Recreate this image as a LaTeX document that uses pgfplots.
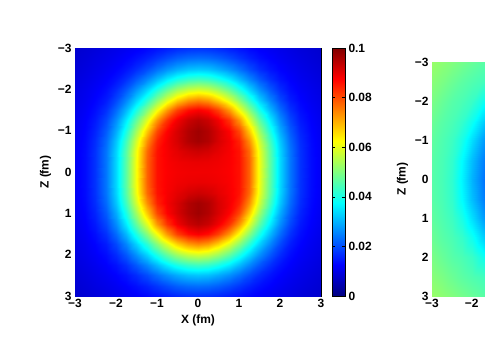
\documentclass[border=0pt]{standalone}
\usepackage{fontspec}
\setmainfont{Liberation Sans}
\usepackage{pgfplots}
\pgfplotsset{compat=1.18}
\newcommand{\lf}{\bfseries\fontsize{12}{14}\selectfont}
\begin{document}
\begin{tikzpicture}
\path[use as bounding box] (0bp,0bp) rectangle (485bp,360bp);
\begin{scope}
\clip (0bp,0bp) rectangle (485bp,360bp);
\begin{axis}[
  at={(75bp,64bp)}, anchor=south west,
  width=246bp, height=248bp, scale only axis,
  xmin=-3, xmax=3, ymin=-3, ymax=3,
  y dir=reverse,
  colormap/jet,
  point meta min=0, point meta max=0.1,
  xtick={-3,-2,-1,0,1,2,3}, ytick={-3,-2,-1,0,1,2,3},
  xticklabels={−3,−2,−1,0,1,2,3},
  yticklabels={−3,−2,−1,0,1,2,3},
  tick align=inside, major tick length=4bp,
  ticklabel style={font=\lf},
  label style={font=\lf},
  xlabel={X (fm)}, ylabel={Z (fm)},
  axis line style={line width=0.8bp},
  tick style={line width=0.6bp, black},
  colorbar,
  colorbar style={
    at={(parent axis.north east)}, anchor=north west, xshift=2.5bp,
    width=13bp, height=248bp, scale only axis,
    y dir=normal,
    ytick={0,0.02,0.04,0.06,0.08,0.1},
    yticklabels={0,0.02,0.04,0.06,0.08,0.1},
    yticklabel style={font=\lf},
    tick align=inside, major tick length=3bp,
    axis line style={line width=0.8bp},
    tick style={line width=0.6bp, black},
  },
]
\addplot[surf, shader=interp, mesh/cols=25, point meta=explicit] coordinates {
(-3,-3)[0.0077] (-2.75,-3)[0.0083] (-2.5,-3)[0.0089] (-2.25,-3)[0.0097] (-2,-3)[0.0104] (-1.75,-3)[0.0112] (-1.5,-3)[0.0120] (-1.25,-3)[0.0130] (-1,-3)[0.0141] (-0.75,-3)[0.0152] (-0.5,-3)[0.0163] (-0.25,-3)[0.0170] (0,-3)[0.0172] (0.25,-3)[0.0170] (0.5,-3)[0.0163] (0.75,-3)[0.0152] (1,-3)[0.0141] (1.25,-3)[0.0130] (1.5,-3)[0.0120] (1.75,-3)[0.0112] (2,-3)[0.0104] (2.25,-3)[0.0097] (2.5,-3)[0.0089] (2.75,-3)[0.0083] (3,-3)[0.0077]
(-3,-2.75)[0.0081] (-2.75,-2.75)[0.0088] (-2.5,-2.75)[0.0096] (-2.25,-2.75)[0.0104] (-2,-2.75)[0.0113] (-1.75,-2.75)[0.0124] (-1.5,-2.75)[0.0138] (-1.25,-2.75)[0.0156] (-1,-2.75)[0.0177] (-0.75,-2.75)[0.0198] (-0.5,-2.75)[0.0217] (-0.25,-2.75)[0.0229] (0,-2.75)[0.0233] (0.25,-2.75)[0.0229] (0.5,-2.75)[0.0217] (0.75,-2.75)[0.0198] (1,-2.75)[0.0177] (1.25,-2.75)[0.0156] (1.5,-2.75)[0.0138] (1.75,-2.75)[0.0124] (2,-2.75)[0.0113] (2.25,-2.75)[0.0104] (2.5,-2.75)[0.0096] (2.75,-2.75)[0.0088] (3,-2.75)[0.0081]
(-3,-2.5)[0.0086] (-2.75,-2.5)[0.0094] (-2.5,-2.5)[0.0103] (-2.25,-2.5)[0.0113] (-2,-2.5)[0.0125] (-1.75,-2.5)[0.0142] (-1.5,-2.5)[0.0167] (-1.25,-2.5)[0.0199] (-1,-2.5)[0.0234] (-0.75,-2.5)[0.0266] (-0.5,-2.5)[0.0293] (-0.25,-2.5)[0.0313] (0,-2.5)[0.0319] (0.25,-2.5)[0.0313] (0.5,-2.5)[0.0293] (0.75,-2.5)[0.0266] (1,-2.5)[0.0234] (1.25,-2.5)[0.0199] (1.5,-2.5)[0.0167] (1.75,-2.5)[0.0142] (2,-2.5)[0.0125] (2.25,-2.5)[0.0113] (2.5,-2.5)[0.0103] (2.75,-2.5)[0.0094] (3,-2.5)[0.0086]
(-3,-2.25)[0.0091] (-2.75,-2.25)[0.0100] (-2.5,-2.25)[0.0110] (-2.25,-2.25)[0.0123] (-2,-2.25)[0.0141] (-1.75,-2.25)[0.0170] (-1.5,-2.25)[0.0211] (-1.25,-2.25)[0.0258] (-1,-2.25)[0.0308] (-0.75,-2.25)[0.0357] (-0.5,-2.25)[0.0397] (-0.25,-2.25)[0.0425] (0,-2.25)[0.0435] (0.25,-2.25)[0.0425] (0.5,-2.25)[0.0397] (0.75,-2.25)[0.0357] (1,-2.25)[0.0308] (1.25,-2.25)[0.0258] (1.5,-2.25)[0.0211] (1.75,-2.25)[0.0170] (2,-2.25)[0.0141] (2.25,-2.25)[0.0123] (2.5,-2.25)[0.0110] (2.75,-2.25)[0.0100] (3,-2.25)[0.0091]
(-3,-2)[0.0096] (-2.75,-2)[0.0106] (-2.5,-2)[0.0118] (-2.25,-2)[0.0135] (-2,-2)[0.0165] (-1.75,-2)[0.0209] (-1.5,-2)[0.0266] (-1.25,-2)[0.0331] (-1,-2)[0.0400] (-0.75,-2)[0.0467] (-0.5,-2)[0.0524] (-0.25,-2)[0.0562] (0,-2)[0.0576] (0.25,-2)[0.0562] (0.5,-2)[0.0524] (0.75,-2)[0.0467] (1,-2)[0.0400] (1.25,-2)[0.0331] (1.5,-2)[0.0266] (1.75,-2)[0.0209] (2,-2)[0.0165] (2.25,-2)[0.0135] (2.5,-2)[0.0118] (2.75,-2)[0.0106] (3,-2)[0.0096]
(-3,-1.75)[0.0100] (-2.75,-1.75)[0.0111] (-2.5,-1.75)[0.0127] (-2.25,-1.75)[0.0151] (-2,-1.75)[0.0195] (-1.75,-1.75)[0.0256] (-1.5,-1.75)[0.0331] (-1.25,-1.75)[0.0417] (-1,-1.75)[0.0508] (-0.75,-1.75)[0.0593] (-0.5,-1.75)[0.0668] (-0.25,-1.75)[0.0722] (0,-1.75)[0.0742] (0.25,-1.75)[0.0722] (0.5,-1.75)[0.0668] (0.75,-1.75)[0.0593] (1,-1.75)[0.0508] (1.25,-1.75)[0.0417] (1.5,-1.75)[0.0331] (1.75,-1.75)[0.0256] (2,-1.75)[0.0195] (2.25,-1.75)[0.0151] (2.5,-1.75)[0.0127] (2.75,-1.75)[0.0111] (3,-1.75)[0.0100]
(-3,-1.5)[0.0104] (-2.75,-1.5)[0.0117] (-2.5,-1.5)[0.0137] (-2.25,-1.5)[0.0172] (-2,-1.5)[0.0230] (-1.75,-1.5)[0.0306] (-1.5,-1.5)[0.0401] (-1.25,-1.5)[0.0508] (-1,-1.5)[0.0618] (-0.75,-1.5)[0.0727] (-0.5,-1.5)[0.0812] (-0.25,-1.5)[0.0862] (0,-1.5)[0.0880] (0.25,-1.5)[0.0862] (0.5,-1.5)[0.0812] (0.75,-1.5)[0.0727] (1,-1.5)[0.0618] (1.25,-1.5)[0.0508] (1.5,-1.5)[0.0401] (1.75,-1.5)[0.0306] (2,-1.5)[0.0230] (2.25,-1.5)[0.0172] (2.5,-1.5)[0.0137] (2.75,-1.5)[0.0117] (3,-1.5)[0.0104]
(-3,-1.25)[0.0108] (-2.75,-1.25)[0.0123] (-2.5,-1.25)[0.0148] (-2.25,-1.25)[0.0194] (-2,-1.25)[0.0264] (-1.75,-1.25)[0.0357] (-1.5,-1.25)[0.0470] (-1.25,-1.25)[0.0596] (-1,-1.25)[0.0729] (-0.75,-1.25)[0.0827] (-0.5,-1.25)[0.0888] (-0.25,-1.25)[0.0927] (0,-1.25)[0.0944] (0.25,-1.25)[0.0927] (0.5,-1.25)[0.0888] (0.75,-1.25)[0.0827] (1,-1.25)[0.0729] (1.25,-1.25)[0.0596] (1.5,-1.25)[0.0470] (1.75,-1.25)[0.0357] (2,-1.25)[0.0264] (2.25,-1.25)[0.0194] (2.5,-1.25)[0.0148] (2.75,-1.25)[0.0123] (3,-1.25)[0.0108]
(-3,-1)[0.0111] (-2.75,-1)[0.0128] (-2.5,-1)[0.0159] (-2.25,-1)[0.0214] (-2,-1)[0.0294] (-1.75,-1)[0.0402] (-1.5,-1)[0.0532] (-1.25,-1)[0.0678] (-1,-1)[0.0806] (-0.75,-1)[0.0875] (-0.5,-1)[0.0914] (-0.25,-1)[0.0951] (0,-1)[0.0969] (0.25,-1)[0.0951] (0.5,-1)[0.0914] (0.75,-1)[0.0875] (1,-1)[0.0806] (1.25,-1)[0.0678] (1.5,-1)[0.0532] (1.75,-1)[0.0402] (2,-1)[0.0294] (2.25,-1)[0.0214] (2.5,-1)[0.0159] (2.75,-1)[0.0128] (3,-1)[0.0111]
(-3,-0.75)[0.0113] (-2.75,-0.75)[0.0132] (-2.5,-0.75)[0.0168] (-2.25,-0.75)[0.0230] (-2,-0.75)[0.0320] (-1.75,-0.75)[0.0439] (-1.5,-0.75)[0.0580] (-1.25,-0.75)[0.0736] (-1,-0.75)[0.0843] (-0.75,-0.75)[0.0886] (-0.5,-0.75)[0.0915] (-0.25,-0.75)[0.0951] (0,-0.75)[0.0966] (0.25,-0.75)[0.0951] (0.5,-0.75)[0.0915] (0.75,-0.75)[0.0886] (1,-0.75)[0.0843] (1.25,-0.75)[0.0736] (1.5,-0.75)[0.0580] (1.75,-0.75)[0.0439] (2,-0.75)[0.0320] (2.25,-0.75)[0.0230] (2.5,-0.75)[0.0168] (2.75,-0.75)[0.0132] (3,-0.75)[0.0113]
(-3,-0.5)[0.0115] (-2.75,-0.5)[0.0134] (-2.5,-0.5)[0.0173] (-2.25,-0.5)[0.0240] (-2,-0.5)[0.0334] (-1.75,-0.5)[0.0460] (-1.5,-0.5)[0.0608] (-1.25,-0.5)[0.0771] (-1,-0.5)[0.0858] (-0.75,-0.5)[0.0883] (-0.5,-0.5)[0.0901] (-0.25,-0.5)[0.0918] (0,-0.5)[0.0926] (0.25,-0.5)[0.0918] (0.5,-0.5)[0.0901] (0.75,-0.5)[0.0883] (1,-0.5)[0.0858] (1.25,-0.5)[0.0771] (1.5,-0.5)[0.0608] (1.75,-0.5)[0.0460] (2,-0.5)[0.0334] (2.25,-0.5)[0.0240] (2.5,-0.5)[0.0173] (2.75,-0.5)[0.0134] (3,-0.5)[0.0115]
(-3,-0.25)[0.0115] (-2.75,-0.25)[0.0135] (-2.5,-0.25)[0.0174] (-2.25,-0.25)[0.0242] (-2,-0.25)[0.0338] (-1.75,-0.25)[0.0465] (-1.5,-0.25)[0.0615] (-1.25,-0.25)[0.0780] (-1,-0.25)[0.0860] (-0.75,-0.25)[0.0880] (-0.5,-0.25)[0.0889] (-0.25,-0.25)[0.0894] (0,-0.25)[0.0896] (0.25,-0.25)[0.0894] (0.5,-0.25)[0.0889] (0.75,-0.25)[0.0880] (1,-0.25)[0.0860] (1.25,-0.25)[0.0780] (1.5,-0.25)[0.0615] (1.75,-0.25)[0.0465] (2,-0.25)[0.0338] (2.25,-0.25)[0.0242] (2.5,-0.25)[0.0174] (2.75,-0.25)[0.0135] (3,-0.25)[0.0115]
(-3,0)[0.0115] (-2.75,0)[0.0135] (-2.5,0)[0.0174] (-2.25,0)[0.0242] (-2,0)[0.0338] (-1.75,0)[0.0465] (-1.5,0)[0.0615] (-1.25,0)[0.0780] (-1,0)[0.0860] (-0.75,0)[0.0878] (-0.5,0)[0.0885] (-0.25,0)[0.0888] (0,0)[0.0888] (0.25,0)[0.0888] (0.5,0)[0.0885] (0.75,0)[0.0878] (1,0)[0.0860] (1.25,0)[0.0780] (1.5,0)[0.0615] (1.75,0)[0.0465] (2,0)[0.0338] (2.25,0)[0.0242] (2.5,0)[0.0174] (2.75,0)[0.0135] (3,0)[0.0115]
(-3,0.25)[0.0115] (-2.75,0.25)[0.0135] (-2.5,0.25)[0.0174] (-2.25,0.25)[0.0242] (-2,0.25)[0.0338] (-1.75,0.25)[0.0465] (-1.5,0.25)[0.0615] (-1.25,0.25)[0.0780] (-1,0.25)[0.0860] (-0.75,0.25)[0.0880] (-0.5,0.25)[0.0889] (-0.25,0.25)[0.0894] (0,0.25)[0.0896] (0.25,0.25)[0.0894] (0.5,0.25)[0.0889] (0.75,0.25)[0.0880] (1,0.25)[0.0860] (1.25,0.25)[0.0780] (1.5,0.25)[0.0615] (1.75,0.25)[0.0465] (2,0.25)[0.0338] (2.25,0.25)[0.0242] (2.5,0.25)[0.0174] (2.75,0.25)[0.0135] (3,0.25)[0.0115]
(-3,0.5)[0.0115] (-2.75,0.5)[0.0134] (-2.5,0.5)[0.0173] (-2.25,0.5)[0.0240] (-2,0.5)[0.0334] (-1.75,0.5)[0.0460] (-1.5,0.5)[0.0608] (-1.25,0.5)[0.0771] (-1,0.5)[0.0858] (-0.75,0.5)[0.0883] (-0.5,0.5)[0.0901] (-0.25,0.5)[0.0918] (0,0.5)[0.0926] (0.25,0.5)[0.0918] (0.5,0.5)[0.0901] (0.75,0.5)[0.0883] (1,0.5)[0.0858] (1.25,0.5)[0.0771] (1.5,0.5)[0.0608] (1.75,0.5)[0.0460] (2,0.5)[0.0334] (2.25,0.5)[0.0240] (2.5,0.5)[0.0173] (2.75,0.5)[0.0134] (3,0.5)[0.0115]
(-3,0.75)[0.0113] (-2.75,0.75)[0.0132] (-2.5,0.75)[0.0168] (-2.25,0.75)[0.0230] (-2,0.75)[0.0320] (-1.75,0.75)[0.0439] (-1.5,0.75)[0.0580] (-1.25,0.75)[0.0736] (-1,0.75)[0.0843] (-0.75,0.75)[0.0886] (-0.5,0.75)[0.0915] (-0.25,0.75)[0.0951] (0,0.75)[0.0966] (0.25,0.75)[0.0951] (0.5,0.75)[0.0915] (0.75,0.75)[0.0886] (1,0.75)[0.0843] (1.25,0.75)[0.0736] (1.5,0.75)[0.0580] (1.75,0.75)[0.0439] (2,0.75)[0.0320] (2.25,0.75)[0.0230] (2.5,0.75)[0.0168] (2.75,0.75)[0.0132] (3,0.75)[0.0113]
(-3,1)[0.0111] (-2.75,1)[0.0128] (-2.5,1)[0.0159] (-2.25,1)[0.0214] (-2,1)[0.0294] (-1.75,1)[0.0402] (-1.5,1)[0.0532] (-1.25,1)[0.0678] (-1,1)[0.0806] (-0.75,1)[0.0875] (-0.5,1)[0.0914] (-0.25,1)[0.0951] (0,1)[0.0969] (0.25,1)[0.0951] (0.5,1)[0.0914] (0.75,1)[0.0875] (1,1)[0.0806] (1.25,1)[0.0678] (1.5,1)[0.0532] (1.75,1)[0.0402] (2,1)[0.0294] (2.25,1)[0.0214] (2.5,1)[0.0159] (2.75,1)[0.0128] (3,1)[0.0111]
(-3,1.25)[0.0108] (-2.75,1.25)[0.0123] (-2.5,1.25)[0.0148] (-2.25,1.25)[0.0194] (-2,1.25)[0.0264] (-1.75,1.25)[0.0357] (-1.5,1.25)[0.0470] (-1.25,1.25)[0.0596] (-1,1.25)[0.0729] (-0.75,1.25)[0.0827] (-0.5,1.25)[0.0888] (-0.25,1.25)[0.0927] (0,1.25)[0.0944] (0.25,1.25)[0.0927] (0.5,1.25)[0.0888] (0.75,1.25)[0.0827] (1,1.25)[0.0729] (1.25,1.25)[0.0596] (1.5,1.25)[0.0470] (1.75,1.25)[0.0357] (2,1.25)[0.0264] (2.25,1.25)[0.0194] (2.5,1.25)[0.0148] (2.75,1.25)[0.0123] (3,1.25)[0.0108]
(-3,1.5)[0.0104] (-2.75,1.5)[0.0117] (-2.5,1.5)[0.0137] (-2.25,1.5)[0.0172] (-2,1.5)[0.0230] (-1.75,1.5)[0.0306] (-1.5,1.5)[0.0401] (-1.25,1.5)[0.0508] (-1,1.5)[0.0618] (-0.75,1.5)[0.0727] (-0.5,1.5)[0.0812] (-0.25,1.5)[0.0862] (0,1.5)[0.0880] (0.25,1.5)[0.0862] (0.5,1.5)[0.0812] (0.75,1.5)[0.0727] (1,1.5)[0.0618] (1.25,1.5)[0.0508] (1.5,1.5)[0.0401] (1.75,1.5)[0.0306] (2,1.5)[0.0230] (2.25,1.5)[0.0172] (2.5,1.5)[0.0137] (2.75,1.5)[0.0117] (3,1.5)[0.0104]
(-3,1.75)[0.0100] (-2.75,1.75)[0.0111] (-2.5,1.75)[0.0127] (-2.25,1.75)[0.0151] (-2,1.75)[0.0195] (-1.75,1.75)[0.0256] (-1.5,1.75)[0.0331] (-1.25,1.75)[0.0417] (-1,1.75)[0.0508] (-0.75,1.75)[0.0593] (-0.5,1.75)[0.0668] (-0.25,1.75)[0.0722] (0,1.75)[0.0742] (0.25,1.75)[0.0722] (0.5,1.75)[0.0668] (0.75,1.75)[0.0593] (1,1.75)[0.0508] (1.25,1.75)[0.0417] (1.5,1.75)[0.0331] (1.75,1.75)[0.0256] (2,1.75)[0.0195] (2.25,1.75)[0.0151] (2.5,1.75)[0.0127] (2.75,1.75)[0.0111] (3,1.75)[0.0100]
(-3,2)[0.0096] (-2.75,2)[0.0106] (-2.5,2)[0.0118] (-2.25,2)[0.0135] (-2,2)[0.0165] (-1.75,2)[0.0209] (-1.5,2)[0.0266] (-1.25,2)[0.0331] (-1,2)[0.0400] (-0.75,2)[0.0467] (-0.5,2)[0.0524] (-0.25,2)[0.0562] (0,2)[0.0576] (0.25,2)[0.0562] (0.5,2)[0.0524] (0.75,2)[0.0467] (1,2)[0.0400] (1.25,2)[0.0331] (1.5,2)[0.0266] (1.75,2)[0.0209] (2,2)[0.0165] (2.25,2)[0.0135] (2.5,2)[0.0118] (2.75,2)[0.0106] (3,2)[0.0096]
(-3,2.25)[0.0091] (-2.75,2.25)[0.0100] (-2.5,2.25)[0.0110] (-2.25,2.25)[0.0123] (-2,2.25)[0.0141] (-1.75,2.25)[0.0170] (-1.5,2.25)[0.0211] (-1.25,2.25)[0.0258] (-1,2.25)[0.0308] (-0.75,2.25)[0.0357] (-0.5,2.25)[0.0397] (-0.25,2.25)[0.0425] (0,2.25)[0.0435] (0.25,2.25)[0.0425] (0.5,2.25)[0.0397] (0.75,2.25)[0.0357] (1,2.25)[0.0308] (1.25,2.25)[0.0258] (1.5,2.25)[0.0211] (1.75,2.25)[0.0170] (2,2.25)[0.0141] (2.25,2.25)[0.0123] (2.5,2.25)[0.0110] (2.75,2.25)[0.0100] (3,2.25)[0.0091]
(-3,2.5)[0.0086] (-2.75,2.5)[0.0094] (-2.5,2.5)[0.0103] (-2.25,2.5)[0.0113] (-2,2.5)[0.0125] (-1.75,2.5)[0.0142] (-1.5,2.5)[0.0167] (-1.25,2.5)[0.0199] (-1,2.5)[0.0234] (-0.75,2.5)[0.0266] (-0.5,2.5)[0.0293] (-0.25,2.5)[0.0313] (0,2.5)[0.0319] (0.25,2.5)[0.0313] (0.5,2.5)[0.0293] (0.75,2.5)[0.0266] (1,2.5)[0.0234] (1.25,2.5)[0.0199] (1.5,2.5)[0.0167] (1.75,2.5)[0.0142] (2,2.5)[0.0125] (2.25,2.5)[0.0113] (2.5,2.5)[0.0103] (2.75,2.5)[0.0094] (3,2.5)[0.0086]
(-3,2.75)[0.0081] (-2.75,2.75)[0.0088] (-2.5,2.75)[0.0096] (-2.25,2.75)[0.0104] (-2,2.75)[0.0113] (-1.75,2.75)[0.0124] (-1.5,2.75)[0.0138] (-1.25,2.75)[0.0156] (-1,2.75)[0.0177] (-0.75,2.75)[0.0198] (-0.5,2.75)[0.0217] (-0.25,2.75)[0.0229] (0,2.75)[0.0233] (0.25,2.75)[0.0229] (0.5,2.75)[0.0217] (0.75,2.75)[0.0198] (1,2.75)[0.0177] (1.25,2.75)[0.0156] (1.5,2.75)[0.0138] (1.75,2.75)[0.0124] (2,2.75)[0.0113] (2.25,2.75)[0.0104] (2.5,2.75)[0.0096] (2.75,2.75)[0.0088] (3,2.75)[0.0081]
(-3,3)[0.0077] (-2.75,3)[0.0083] (-2.5,3)[0.0089] (-2.25,3)[0.0097] (-2,3)[0.0104] (-1.75,3)[0.0112] (-1.5,3)[0.0120] (-1.25,3)[0.0130] (-1,3)[0.0141] (-0.75,3)[0.0152] (-0.5,3)[0.0163] (-0.25,3)[0.0170] (0,3)[0.0172] (0.25,3)[0.0170] (0.5,3)[0.0163] (0.75,3)[0.0152] (1,3)[0.0141] (1.25,3)[0.0130] (1.5,3)[0.0120] (1.75,3)[0.0112] (2,3)[0.0104] (2.25,3)[0.0097] (2.5,3)[0.0089] (2.75,3)[0.0083] (3,3)[0.0077]
};
\end{axis}
\begin{axis}[
  at={(432bp,64bp)}, anchor=south west,
  width=238bp, height=234bp, scale only axis,
  xmin=-3, xmax=3, ymin=-3, ymax=3,
  y dir=reverse,
  colormap/jet,
  point meta min=0, point meta max=1,
  xtick={-3,-2,-1,0,1,2,3}, ytick={-3,-2,-1,0,1,2,3},
  xticklabels={−3,−2,−1,0,1,2,3},
  yticklabels={−3,−2,−1,0,1,2,3},
  tick align=inside, major tick length=4bp,
  ticklabel style={font=\lf},
  label style={font=\lf},
  xlabel={X (fm)}, ylabel={Z (fm)},
  axis line style={line width=0.8bp},
  tick style={line width=0.6bp, black},
]
\addplot[surf, shader=interp, mesh/cols=9, point meta=explicit] coordinates {
(-3,-3)[0.524] (-2.75,-3)[0.513] (-2.5,-3)[0.502] (-2.25,-3)[0.489] (-2,-3)[0.476] (-1.75,-3)[0.464] (-1.5,-3)[0.455] (-1.25,-3)[0.448] (-1,-3)[0.440]
(-3,-2.5)[0.509] (-2.75,-2.5)[0.496] (-2.5,-2.5)[0.480] (-2.25,-2.5)[0.465] (-2,-2.5)[0.453] (-1.75,-2.5)[0.442] (-1.5,-2.5)[0.426] (-1.25,-2.5)[0.404] (-1,-2.5)[0.378]
(-3,-2)[0.495] (-2.75,-2)[0.477] (-2.5,-2)[0.460] (-2.25,-2)[0.448] (-2,-2)[0.430] (-1.75,-2)[0.395] (-1.5,-2)[0.363] (-1.25,-2)[0.322] (-1,-2)[0.289]
(-3,-1.5)[0.480] (-2.75,-1.5)[0.462] (-2.5,-1.5)[0.448] (-2.25,-1.5)[0.427] (-2,-1.5)[0.390] (-1.75,-1.5)[0.339] (-1.5,-1.5)[0.291] (-1.25,-1.5)[0.254] (-1,-1.5)[0.220]
(-3,-1)[0.469] (-2.75,-1)[0.452] (-2.5,-1)[0.434] (-2.25,-1)[0.398] (-2,-1)[0.343] (-1.75,-1)[0.288] (-1.5,-1)[0.243] (-1.25,-1)[0.200] (-1,-1)[0.184]
(-3,-0.5)[0.462] (-2.75,-0.5)[0.447] (-2.5,-0.5)[0.424] (-2.25,-0.5)[0.373] (-2,-0.5)[0.311] (-1.75,-0.5)[0.260] (-1.5,-0.5)[0.211] (-1.25,-0.5)[0.186] (-1,-0.5)[0.167]
(-3,0)[0.460] (-2.75,0)[0.445] (-2.5,0)[0.420] (-2.25,0)[0.365] (-2,0)[0.300] (-1.75,0)[0.250] (-1.5,0)[0.200] (-1.25,0)[0.180] (-1,0)[0.160]
(-3,0.5)[0.462] (-2.75,0.5)[0.447] (-2.5,0.5)[0.424] (-2.25,0.5)[0.373] (-2,0.5)[0.311] (-1.75,0.5)[0.260] (-1.5,0.5)[0.211] (-1.25,0.5)[0.186] (-1,0.5)[0.167]
(-3,1)[0.469] (-2.75,1)[0.452] (-2.5,1)[0.434] (-2.25,1)[0.398] (-2,1)[0.343] (-1.75,1)[0.288] (-1.5,1)[0.243] (-1.25,1)[0.200] (-1,1)[0.184]
(-3,1.5)[0.480] (-2.75,1.5)[0.462] (-2.5,1.5)[0.448] (-2.25,1.5)[0.427] (-2,1.5)[0.390] (-1.75,1.5)[0.339] (-1.5,1.5)[0.291] (-1.25,1.5)[0.254] (-1,1.5)[0.220]
(-3,2)[0.495] (-2.75,2)[0.477] (-2.5,2)[0.460] (-2.25,2)[0.448] (-2,2)[0.430] (-1.75,2)[0.395] (-1.5,2)[0.363] (-1.25,2)[0.322] (-1,2)[0.289]
(-3,2.5)[0.509] (-2.75,2.5)[0.496] (-2.5,2.5)[0.480] (-2.25,2.5)[0.465] (-2,2.5)[0.453] (-1.75,2.5)[0.442] (-1.5,2.5)[0.426] (-1.25,2.5)[0.404] (-1,2.5)[0.378]
(-3,3)[0.524] (-2.75,3)[0.513] (-2.5,3)[0.502] (-2.25,3)[0.489] (-2,3)[0.476] (-1.75,3)[0.464] (-1.5,3)[0.455] (-1.25,3)[0.448] (-1,3)[0.440]
};
\end{axis}
\end{scope}
\end{tikzpicture}
\end{document}
